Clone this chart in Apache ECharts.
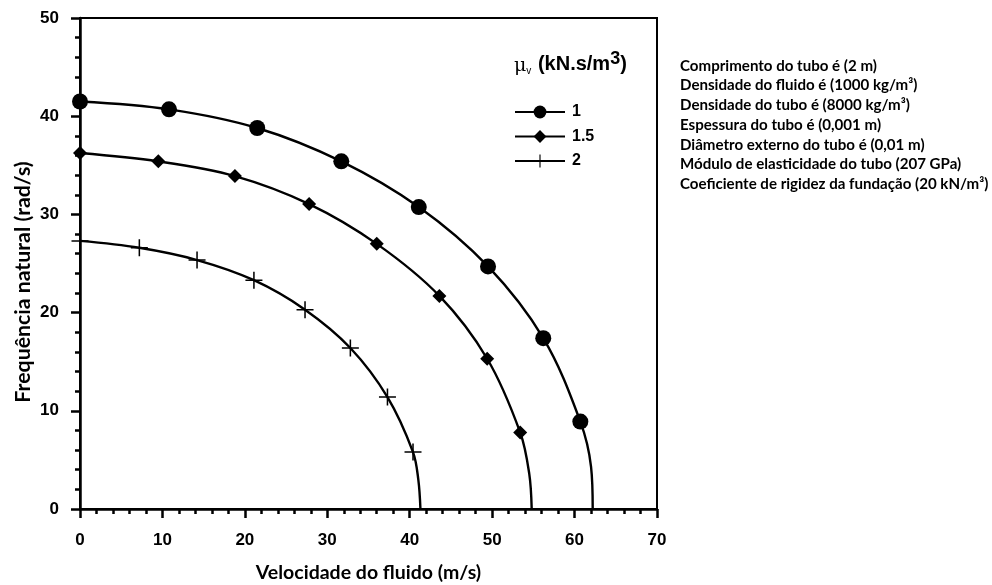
<!DOCTYPE html>
<html>
<head>
<meta charset="utf-8">
<script src="https://cdn.jsdelivr.net/npm/echarts@6/dist/echarts.min.js"></script>
<style>
  html, body { margin: 0; padding: 0; background: #fff; }
  #chart { width: 992px; height: 585px; }
</style>
</head>
<body>
<div id="chart"></div>
<script>
// Natural frequency vs. fluid velocity for three damping coefficients
const seriesNames = ['1', '1.5', '2'];

// Marked points [velocity (m/s), frequency (rad/s)]
const mu1Points = [[0, 41.5], [10.8, 40.7], [21.5, 38.8], [31.7, 35.4], [41.1, 30.75], [49.5, 24.7], [56.2, 17.4], [60.7, 8.9]];
const mu15Points = [[0, 36.25], [9.5, 35.4], [18.8, 33.9], [27.8, 31.05], [36.0, 27.0], [43.6, 21.7], [49.4, 15.3], [53.4, 7.8]];
const mu2Points = [[0, 27.3], [7.2, 26.6], [14.2, 25.35], [21.1, 23.3], [27.3, 20.3], [32.8, 16.4], [37.3, 11.4], [40.4, 5.8]];

// Tail of each curve down to zero frequency (drawn without markers)
const mu1Tail = [[62.0, 4.3], [62.2, 0]];
const mu15Tail = [[54.5, 3.6], [54.8, 0]];
const mu2Tail = [[41.05, 2.95], [41.3, 0]];

const notes = [
  'Comprimento do tubo é (2 m)',
  'Densidade do fluido é (1000 kg/m³)',
  'Densidade do tubo é (8000 kg/m³)',
  'Espessura do tubo é (0,001 m)',
  'Diâmetro externo do tubo é (0,01 m)',
  'Módulo de elasticidade do tubo (207 GPa)',
  'Coeficiente de rigidez da fundação (20 kN/m³)'
];

const PLUS = 'path://M-0.09,-1 H0.09 V-0.09 H1 V0.09 H0.09 V1 H-0.09 V0.09 H-1 V-0.09 H-0.09 Z';
const symbols = ['circle', 'diamond', PLUS];
const symbolSizes = [16, 14, 17];

function build(points, tail) {
  return points.map(p => ({ value: p })).concat(tail.map(p => ({ value: p, symbol: 'none' })));
}

const chart = echarts.init(document.getElementById('chart'), null, { renderer: 'canvas' });

const tickFont = { color: '#000', fontFamily: 'Liberation Sans', fontWeight: 'bold', fontSize: 17 };

const option = {
  backgroundColor: '#fff',
  animation: false,
  grid: {
    left: 80, top: 18, right: 335, bottom: 76, outerBoundsMode: 'none',
    show: true, borderColor: '#000', borderWidth: 2
  },
  xAxis: {
    type: 'value', min: 0, max: 70, interval: 10,
    name: 'Velocidade do fluido (m/s)', nameLocation: 'middle', nameGap: 54,
    nameTextStyle: { color: '#000', fontFamily: 'Lato', fontWeight: 'bold', fontSize: 19.5 },
    axisLine: { onZero: false, lineStyle: { color: '#000', width: 2.5 } },
    axisTick: { inside: false, length: 9, lineStyle: { color: '#000', width: 2.5 } },
    minorTick: { show: true, splitNumber: 5, length: 5, lineStyle: { color: '#000', width: 2.5 } },
    axisLabel: Object.assign({ margin: 23 }, tickFont),
    splitLine: { show: false }
  },
  yAxis: {
    type: 'value', min: 0, max: 50, interval: 10,
    axisLine: { onZero: false, lineStyle: { color: '#000', width: 2.5 } },
    axisTick: { inside: false, length: 9, lineStyle: { color: '#000', width: 2.5 } },
    minorTick: { show: true, splitNumber: 5, length: 5, lineStyle: { color: '#000', width: 2.5 } },
    axisLabel: Object.assign({ margin: 21 }, tickFont),
    splitLine: { show: false }
  },
  legend: {
    orient: 'vertical', left: 509, top: 99, itemWidth: 50, itemHeight: 16, itemGap: 8.5,
    data: seriesNames,
    textStyle: { color: '#000', fontFamily: 'Liberation Sans', fontWeight: 'bold', fontSize: 16, padding: [0, 0, 0, 2] }
  },
  graphic: [
    {
      type: 'text', left: 514, top: 50,
      style: {
        text: '{mu|μ}{sub|v}{u| (kN.s/m}{sup|3}{u|)}',
        rich: {
          mu: { fontFamily: 'DejaVu Serif', fontSize: 19, fill: '#000', padding: [4, 0, 0, 0] },
          sub: { fontFamily: 'Liberation Sans', fontSize: 10, fill: '#000', padding: [14, 1, 0, 0] },
          u: { fontFamily: 'Liberation Sans', fontWeight: 'bold', fontSize: 20, fill: '#000' },
          sup: { fontFamily: 'Liberation Sans', fontWeight: 'bold', fontSize: 18, fill: '#000', padding: [0, 0, 10, 0] }
        }
      }
    },
    {
      type: 'text', x: 23, y: 282, rotation: Math.PI / 2,
      style: {
        text: 'Frequência natural (rad/s)',
        fontFamily: 'Lato', fontWeight: 'bold', fontSize: 21.3, fill: '#000',
        align: 'center', verticalAlign: 'middle'
      }
    },
    {
      type: 'text', left: 680, top: 56,
      style: {
        text: notes.join('\n'),
        fontFamily: 'Lato', fontWeight: 'bold', fontSize: 15.1, lineHeight: 19.7, fill: '#000'
      }
    }
  ],
  series: [
    [mu1Points, mu1Tail], [mu15Points, mu15Tail], [mu2Points, mu2Tail]
  ].map((d, i) => ({
    name: seriesNames[i],
    type: 'line',
    smooth: 0.35,
    symbol: symbols[i],
    symbolSize: symbolSizes[i],
    showAllSymbol: true,
    lineStyle: { color: '#000', width: 2.4 },
    itemStyle: { color: '#000', borderWidth: 0 },
    data: build(d[0], d[1]),
    z: 3
  }))
};

chart.setOption(option);
</script>
</body>
</html>
